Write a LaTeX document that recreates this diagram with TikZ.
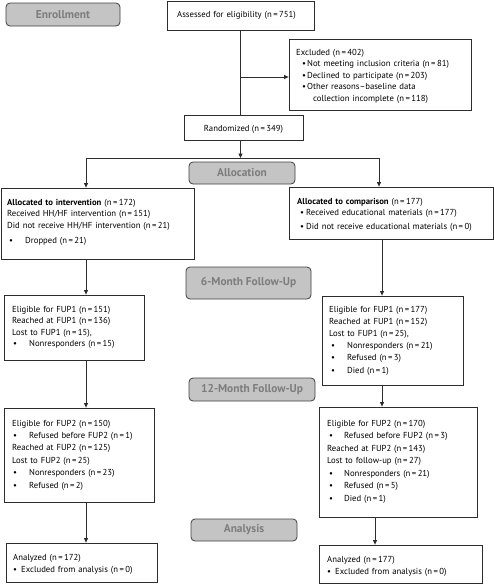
\documentclass[tikz,border=0pt]{standalone}
\usepackage{fontspec}
\setmainfont{PT Sans}
\usetikzlibrary{arrows.meta,fit}
\definecolor{stagefill}{RGB}{196,196,196}
\definecolor{stagedraw}{RGB}{64,64,64}
\definecolor{stagetext}{RGB}{125,125,125}
\definecolor{linecol}{RGB}{45,45,45}
\newcommand{\bl}[1]{\makebox[#1][l]{\textbullet}}
\begin{document}
\begin{tikzpicture}[x=1pt,y=-1pt,
  box/.style={draw=linecol, line width=0.8pt, inner sep=0pt, fill=white},
  stage/.style={draw=stagedraw, fill=stagefill, line width=0.8pt, rounded corners=4pt, inner sep=0pt},
  stagelbl/.style={font=\fontsize{11.4}{13}\selectfont\bfseries, text=stagetext, inner sep=0pt},
  txt/.style={anchor=base west, inner sep=0pt, text width=200pt, align=left, font=\fontsize{8.7}{11.6}\selectfont},
  conn/.style={draw=linecol, line width=0.8pt},
  arr/.style={conn, -{Triangle[length=4.5pt,width=4pt]}}
]
\useasboundingbox (0,0) rectangle (494,584);

% stage boxes
\node[stage, fit={(6,3) (120,26)}] (enroll) {};
\node[stagelbl] (enrollT) at (enroll.center) {Enrollment};
\node[stage, fit={(189,162) (295,184)}] (alloc) {};
\node[stagelbl] (allocT) at (alloc.center) {Allocation};
\node[stage, fit={(186,267) (311,299)}] (fu6) {};
\node[stagelbl] (fu6T) at (fu6.center) {6-Month Follow-Up};
\node[stage, fit={(189,378) (315,401)}] (fu12) {};
\node[stagelbl] (fu12T) at (fu12.center) {12-Month Follow-Up};
\node[stage, fit={(191,519) (297,541)}] (anal) {};
\node[stagelbl] (analT) at (anal.center) {Analysis};

% content boxes
\node[box, fit={(167,1) (314,30)}] (assess) {};
\node[txt] (assessT) at (177,17.5) {Assessed for eligibility (n\,=\,751)};

\node[box, fit={(289,39) (471,110)}] (excl) {};
\node[txt] (exclT) at (296,55) {Excluded (n\,=\,402)\\
\hspace*{6pt}\bl{5pt}Not meeting inclusion criteria (n\,=\,81)\\
\hspace*{6pt}\bl{5pt}Declined to participate (n\,=\,203)\\
\hspace*{6pt}\bl{5pt}Other reasons--baseline data\\
\hspace*{17pt}collection incomplete (n\,=\,118)};

\node[box, fit={(184,115) (303,140)}] (rand) {};
\node[anchor=base, inner sep=0pt, font=\fontsize{8.7}{11.6}\selectfont] (randT) at (243.5,131) {Randomized (n\,=\,349)};

\node[box, fit={(1,188) (194,259)}] (int) {};
\node[txt] (intT) at (7,205) {\textbf{Allocated to intervention} (n\,=\,172)\\
Received HH/HF intervention (n\,=\,151)\\
Did not receive HH/HF intervention (n\,=\,21)\\[3.2pt]
\hspace*{2pt}\bl{16pt}Dropped (n\,=\,21)};

\node[box, fit={(289,187) (493,239)}] (comp) {};
\node[txt] (compT) at (297,204) {\textbf{Allocated to comparison} (n\,=\,177)\\
\hspace*{3pt}\bl{6pt}Received educational materials (n\,=\,177)\\[2pt]
\hspace*{3pt}\bl{6pt}Did not receive educational materials (n\,=\,0)};

\node[box, fit={(4,295) (144,360)}] (fupAL) {};
\node[txt] (fupALT) at (12,312) {Eligible for FUP1 (n\,=\,151)\\
Reached at FUP1 (n\,=\,136)\\
Lost to FUP1 (n\,=\,15),\\
\hspace*{1pt}\bl{16pt}Nonresponders (n\,=\,15)};

\node[box, fit={(322,296) (463,385)}] (fupAR) {};
\node[txt, font=\fontsize{8.7}{12.2}\selectfont] (fupART) at (329,312) {Eligible for FUP1 (n\,=\,177)\\
Reached at FUP1 (n\,=\,152)\\
Lost to FUP1 (n\,=\,25),\\
\hspace*{2pt}\bl{16pt}Nonresponders (n\,=\,21)\\
\hspace*{2pt}\bl{16pt}Refused (n\,=\,3)\\
\hspace*{2pt}\bl{16pt}Died (n\,=\,1)};

\node[box, fit={(4,408) (154,502)}] (fupBL) {};
\node[txt, font=\fontsize{8.7}{12.4}\selectfont] (fupBLT) at (12,426) {Eligible for FUP2 (n\,=\,150)\\
\hspace*{1pt}\bl{16pt}Refused before FUP2 (n\,=\,1)\\
Reached at FUP2 (n\,=\,125)\\
Lost to FUP2 (n\,=\,25)\\
\hspace*{1pt}\bl{16pt}Nonresponders (n\,=\,23)\\
\hspace*{1pt}\bl{16pt}Refused (n\,=\,2)};

\node[box, fit={(319,407) (477,517)}] (fupBR) {};
\node[txt, font=\fontsize{8.7}{12.5}\selectfont] (fupBRT) at (327,426) {Eligible for FUP2 (n\,=\,170)\\
\hspace*{2pt}\bl{15pt}Refused before FUP2 (n\,=\,3)\\
Reached at FUP2 (n\,=\,143)\\
Lost to follow-up (n\,=\,27)\\
\hspace*{2pt}\bl{15pt}Nonresponders (n\,=\,21)\\
\hspace*{2pt}\bl{15pt}Refused (n\,=\,5)\\
\hspace*{2pt}\bl{15pt}Died (n\,=\,1)};

\node[box, fit={(6,543) (157,582)}] (anL) {};
\node[txt, font=\fontsize{8.7}{12.3}\selectfont] (anLT) at (13,560) {Analyzed (n\,=\,172)\\
\bl{8pt}Excluded from analysis (n\,=\,0)};

\node[box, fit={(319,545) (482,583)}] (anR) {};
\node[txt, font=\fontsize{8.7}{12.8}\selectfont] (anRT) at (327,562) {Analyzed (n\,=\,177)\\
\bl{8pt}Excluded from analysis (n\,=\,0)};

% connectors
\draw[conn] (assess.south) -- (assess.south |- rand.north);
\coordinate (jx) at (240.5,77);
\draw[arr] (jx) -- (jx -| excl.west);
\coordinate (split) at (240.5,158);
\draw[arr] (assess.south |- rand.south) -- (split);
\coordinate (sl) at (86,158);
\coordinate (sr) at (379,158);
\draw[conn] (sl) -- (sr);
\draw[arr] (sl) -- (sl |- int.north);
\draw[arr] (sr) -- (sr |- comp.north);
\coordinate (cl) at (86,0);
\coordinate (cr) at (382,0);
\coordinate (cr2) at (375,0);
\draw[arr] (int.south -| cl) -- (fupAL.north -| cl);
\draw[arr] (fupAL.south -| cl) -- (fupBL.north -| cl);
\draw[arr] (fupBL.south -| cl) -- (anL.north -| cl);
\draw[arr] (comp.south -| cr) -- (fupAR.north -| cr);
\draw[arr] (fupAR.south -| cr) -- (fupBR.north -| cr);
\draw[arr] (fupBR.south -| cr2) -- (anR.north -| cr2);
\end{tikzpicture}
\end{document}
